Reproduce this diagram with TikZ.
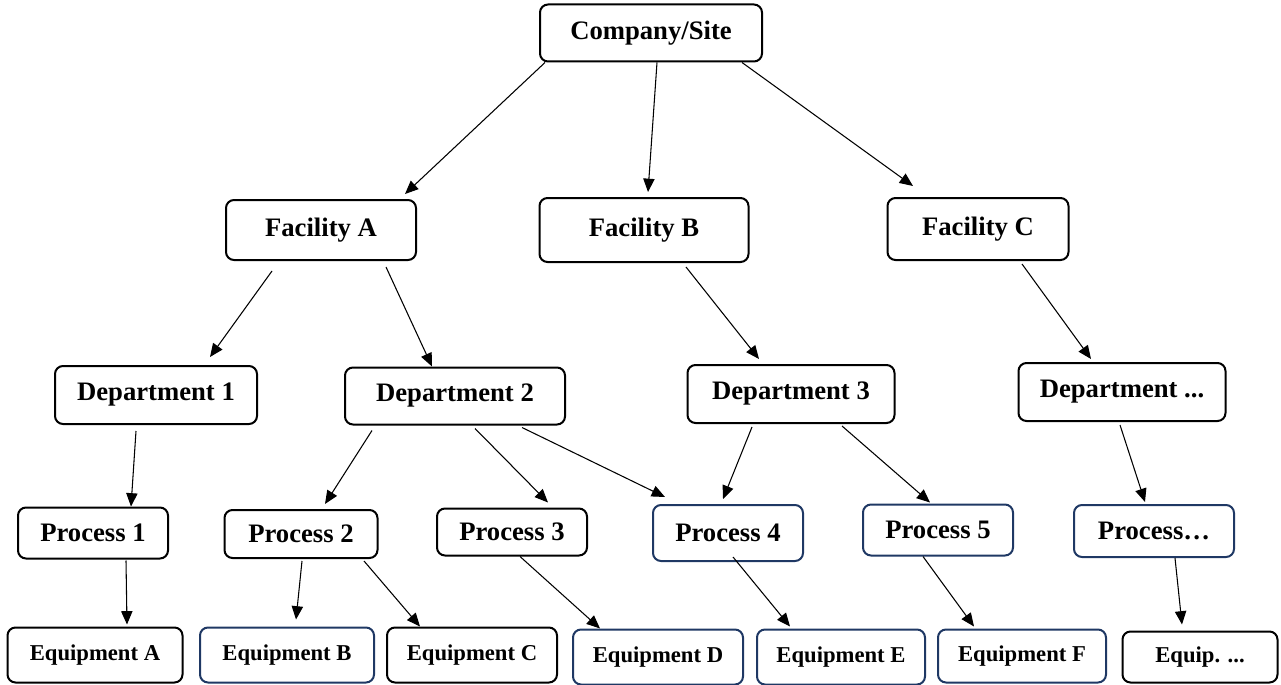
\documentclass[tikz,border=0pt]{standalone}
\usepackage{fontspec}
\setmainfont{Liberation Serif}
\usetikzlibrary{arrows.meta,calc}
\definecolor{navy}{RGB}{31,56,100}
\tikzset{
  box/.style={draw=black, line width=1.5pt, rounded corners=6pt, inner sep=2pt,
    font=\bfseries\fontsize{20}{24}\selectfont},
  sz/.style 2 args={minimum width=#1*0.75pt, minimum height=#2*0.75pt},
  bluebox/.style={box, draw=navy},
  equip/.style={font=\bfseries\fontsize{17}{20}\selectfont},
  link/.style={line width=0.8pt, -{Triangle[length=10pt,width=8.5pt]}}
}
\begin{document}
\begin{tikzpicture}[x=0.75pt,y=0.75pt,yscale=-1,xscale=1]
\useasboundingbox (0,0) rectangle (1281,685);

% top level
\node[box, sz={222}{57}] (site) at (651,33) {Company/Site};

% facilities
\node[box, sz={190}{60}] (facA) at (321,230) {Facility A};
\node[box, sz={209}{64}] (facB) at (644,230) {Facility B};
\node[box, sz={181}{62}] (facC) at (978,229) {Facility C};

% departments
\node[box, sz={202}{58}] (dep1) at (156,395) {Department 1};
\node[box, sz={220}{57}] (dep2) at (455,396) {Department 2};
\node[box, sz={207}{58}] (dep3) at (791,394) {Department 3};
\node[box, sz={207}{58}] (depX) at (1122,392) {Department ...};

% processes
\node[box, sz={150}{51}] (proc1) at (93,533) {Process 1};
\node[box, sz={153}{48}] (proc2) at (301,534) {Process 2};
\node[box, sz={150}{47}] (proc3) at (512,532) {Process 3};
\node[bluebox, sz={150}{56}] (proc4) at (728,533) {Process 4};
\node[bluebox, sz={150}{51}] (proc5) at (938,530) {Process 5};
\node[bluebox, sz={160}{52}] (procX) at (1154,531) {Process\ldots};

% equipment
\node[box, equip, sz={175}{55}] (eqA) at (95,655) {Equipment A};
\node[bluebox, equip, sz={174}{55}] (eqB) at (287,655) {Equipment B};
\node[box, equip, sz={170}{55}] (eqC) at (472,655) {Equipment C};
\node[bluebox, equip, sz={170}{55}] (eqD) at (658,657) {Equipment D};
\node[bluebox, equip, sz={168}{55}] (eqE) at (841,657) {Equipment E};
\node[bluebox, equip, sz={168}{53}] (eqF) at (1022,656) {Equipment F};
\node[box, equip, sz={155}{51}] (eqX) at (1200,657) {Equip. ...};

% site -> facilities
\draw[link] ($(site.south)+(-106,0)$) -- ($(facA.north)+(84,-5)$);
\draw[link] ($(site.south)+(6,0)$) -- ($(facB.north)+(4,-5)$);
\draw[link] ($(site.south)+(91,0)$) -- ($(facC.north)+(-65,-11)$);

% facilities -> departments
\draw[link] ($(facA.south)+(-49,10)$) -- ($(dep1.north)+(54,-8)$);
\draw[link] ($(facA.south)+(65,6)$) -- ($(dep2.north)+(-23,0)$);
\draw[link] ($(facB.south)+(42,4)$) -- ($(dep3.north)+(-32,-5)$);
\draw[link] ($(facC.south)+(44,3)$) -- ($(depX.north)+(-31,-3)$);

% departments -> processes
\draw[link] ($(dep1.south)+(-20,6)$) -- ($(proc1.north)+(38,0)$);
\draw[link] ($(dep2.south)+(-83,5)$) -- ($(proc2.north)+(24,-5)$);
\draw[link] ($(dep2.south)+(20,3)$) -- ($(proc3.north)+(36,-5)$);
\draw[link] ($(dep2.south)+(67,2)$) -- ($(proc4.north)+(-63,-7)$);
\draw[link] ($(dep3.south)+(-39,3)$) -- ($(proc4.north)+(-5,-5)$);
\draw[link] ($(dep3.south)+(51,2)$) -- ($(proc5.north)+(-8,-1)$);
\draw[link] ($(depX.south)+(-2,3)$) -- ($(procX.north)+(-9,-2)$);

% processes -> equipment
\draw[link] ($(proc1.south)+(33,1)$) -- ($(eqA.north)+(32,-2)$);
\draw[link] ($(proc2.south)+(1,2)$) -- ($(eqB.north)+(9,-7)$);
\draw[link] ($(proc2.south)+(63,2)$) -- ($(eqC.north)+(-52,0)$);
\draw[link] ($(proc3.south)+(8,0)$) -- ($(eqD.north)+(-58,0)$);
\draw[link] ($(proc4.south)+(5,-5)$) -- ($(eqE.north)+(-51,-2)$);
\draw[link] ($(proc5.south)+(-15,0)$) -- ($(eqF.north)+(-48,-2)$);
\draw[link] ($(procX.south)+(21,0)$) -- ($(eqX.north)+(-18,-6)$);

\end{tikzpicture}
\end{document}
